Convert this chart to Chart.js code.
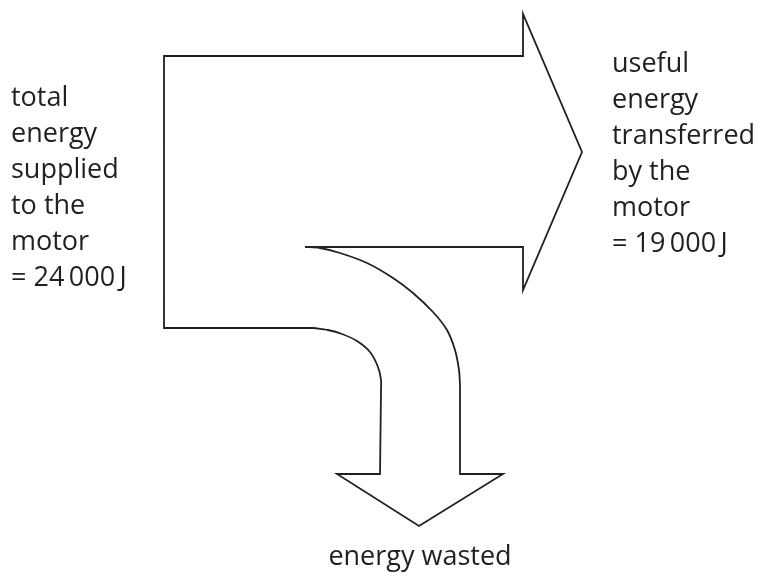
<!DOCTYPE html>
<html lang="en">
<head>
    <meta charset="UTF-8">
    <title>Energy transfer diagram</title>
    <script src="https://cdn.jsdelivr.net/npm/chart.js"></script>
    <style>
        body { margin: 0; background: #fff; }
        #wrap { width: 763px; height: 578px; }
    </style>
</head>
<body>
    <div id="wrap"><canvas id="chart" width="763" height="578"></canvas></div>

    <script>
        // energy values (J)
        const totalEnergy = 24000;
        const usefulEnergy = 19000;
        const wastedEnergy = totalEnergy - usefulEnergy;

        // label lines
        const inputLabel = ['total', 'energy', 'supplied', 'to the', 'motor', '= 24\u2009000\u2009J'];
        const usefulLabel = ['useful', 'energy', 'transferred', 'by the', 'motor', '= 19\u2009000\u2009J'];
        const wastedLabel = ['energy wasted'];

        // outline of the arrows (diagram units = pixels)
        const mainOutlineX = [314, 164, 164, 523, 523, 582, 523, 523, 305];
        const mainOutlineY = [328, 328, 56, 56, 14, 152, 290, 247, 247];

        const outerCurveX = [305, 320, 340, 367, 393, 413, 433, 447, 455, 459, 460];
        const outerCurveY = [247, 248, 253, 263, 278, 293, 312, 330, 350, 370, 385];

        const innerCurveX = [314, 328, 342, 357, 370, 378, 381, 381];
        const innerCurveY = [328, 330, 334, 341, 352, 367, 380, 392];

        const downArrowX = [381, 380, 337, 419, 503, 460, 460];
        const downArrowY = [392, 474, 474, 526, 474, 474, 385];

        const ink = '#231f20';

        function toPoints(xs, ys) {
            return xs.map((x, i) => ({ x: x, y: ys[i] }));
        }

        function lineSet(xs, ys, tension) {
            return {
                data: toPoints(xs, ys),
                showLine: true,
                borderColor: ink,
                borderWidth: 1.8,
                pointRadius: 0,
                tension: tension,
                fill: false
            };
        }

        // labels drawn in diagram coordinates
        const labelPlugin = {
            id: 'labels',
            afterDatasetsDraw(chart) {
                const ctx = chart.ctx;
                const xs = chart.scales.x, ys = chart.scales.y;
                ctx.save();
                ctx.fillStyle = ink;
                ctx.font = '27px "Open Sans"';
                ctx.textBaseline = 'alphabetic';

                ctx.textAlign = 'left';
                inputLabel.forEach((t, i) => {
                    ctx.fillText(t, xs.getPixelForValue(11), ys.getPixelForValue(106 + i * 36));
                });
                usefulLabel.forEach((t, i) => {
                    ctx.fillText(t, xs.getPixelForValue(612), ys.getPixelForValue(72 + i * 36));
                });
                ctx.textAlign = 'center';
                wastedLabel.forEach((t, i) => {
                    ctx.fillText(t, xs.getPixelForValue(420), ys.getPixelForValue(565 + i * 36));
                });
                ctx.restore();
            }
        };

        new Chart(document.getElementById('chart'), {
            type: 'scatter',
            data: {
                datasets: [
                    lineSet(mainOutlineX, mainOutlineY, 0),
                    lineSet(outerCurveX, outerCurveY, 0.3),
                    lineSet(innerCurveX, innerCurveY, 0.3),
                    lineSet(downArrowX, downArrowY, 0)
                ]
            },
            options: {
                responsive: false,
                animation: false,
                layout: { padding: 0 },
                plugins: {
                    legend: { display: false },
                    tooltip: { enabled: false }
                },
                scales: {
                    x: { type: 'linear', min: 0, max: 763, display: false },
                    y: { type: 'linear', min: 0, max: 578, reverse: true, display: false }
                }
            },
            plugins: [labelPlugin]
        });
    </script>
</body>
</html>
